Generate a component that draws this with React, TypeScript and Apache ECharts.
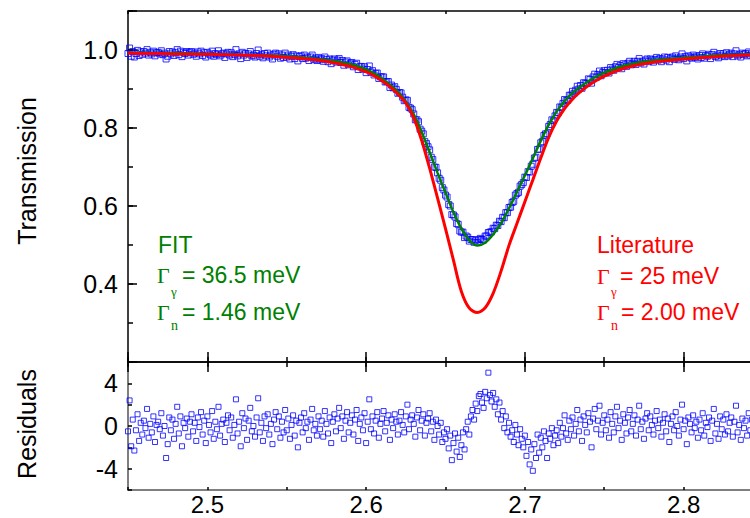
import { useEffect, useRef } from 'react';
import * as echarts from 'echarts';

const X_MIN = 2.45;
const X_MAX = 2.85;

// Transmission measurements, even grid (every 0.002 from 2.450)
const T_START = 2.45;
const T_STEP = 0.002;
const TRANSMISSION = [
  0.991, 0.984, 0.982, 0.999, 0.995, 0.996, 1.001, 0.994, 0.997, 0.993,
  0.990, 0.988, 0.977, 0.996, 0.995, 0.993, 0.988, 0.983, 0.991, 0.987,
  0.996, 0.992, 0.995, 0.997, 0.993, 0.994, 0.987, 0.984, 0.988, 0.985,
  0.992, 0.990, 0.987, 0.983, 1.001, 0.990, 0.994, 0.991, 0.990, 0.985,
  0.982, 1.000, 0.988, 0.991, 0.992, 0.987, 0.989, 0.984, 0.979, 0.981,
  0.982, 0.977, 0.988, 0.985, 0.983, 0.978, 0.979, 0.973, 0.987, 0.979,
  0.981, 0.978, 0.982, 0.970, 0.965, 0.977, 0.974, 0.968, 0.961, 0.972,
  0.966, 0.957, 0.966, 0.957, 0.951, 0.942, 0.959, 0.947, 0.940, 0.927,
  0.931, 0.918, 0.919, 0.910, 0.906, 0.889, 0.890, 0.870, 0.871, 0.851,
  0.836, 0.821, 0.797, 0.785, 0.760, 0.744, 0.719, 0.699, 0.671, 0.647,
  0.628, 0.604, 0.578, 0.572, 0.553, 0.533, 0.519, 0.520, 0.514, 0.507,
  0.506, 0.517, 0.513, 0.523, 0.533, 0.543, 0.551, 0.561, 0.571, 0.583,
  0.596, 0.609, 0.628, 0.635, 0.655, 0.674, 0.688, 0.702, 0.723, 0.745,
  0.762, 0.781, 0.785, 0.809, 0.819, 0.840, 0.854, 0.863, 0.870, 0.884,
  0.894, 0.897, 0.900, 0.902, 0.915, 0.926, 0.915, 0.938, 0.937, 0.934,
  0.947, 0.948, 0.955, 0.948, 0.963, 0.960, 0.965, 0.958, 0.971, 0.966,
  0.963, 0.978, 0.971, 0.974, 0.970, 0.974, 0.976, 0.974, 0.970, 0.982,
  0.981, 0.979, 0.976, 0.979, 0.982, 0.978, 0.972, 0.982, 0.987, 0.984,
  0.986, 0.990, 0.986, 0.989, 0.988, 0.983, 0.980, 0.985, 0.983, 0.985,
  0.992, 0.990, 0.985, 0.982, 0.988, 0.985, 0.987, 0.981, 0.994, 0.990,
];

// Transmission measurements, odd grid (every 0.002 from 2.451)
const T_ODD_START = 2.451;
const TRANSMISSION_ODD = [
  1.005, 0.996, 0.991, 0.986, 0.989, 0.992, 0.987, 0.990, 0.985, 0.994,
  0.998, 0.992, 0.984, 0.990, 0.986, 1.001, 0.997, 0.994, 0.996, 0.994,
  0.989, 0.984, 0.990, 0.986, 0.982, 0.990, 0.997, 0.991, 0.998, 0.990,
  0.981, 0.994, 0.993, 0.989, 0.985, 0.978, 0.987, 0.981, 0.996, 0.987,
  0.991, 0.984, 0.980, 0.985, 0.982, 0.977, 0.992, 0.990, 0.987, 0.992,
  0.987, 0.984, 0.978, 0.972, 0.985, 0.987, 0.982, 0.982, 0.976, 0.973,
  0.975, 0.971, 0.976, 0.977, 0.974, 0.969, 0.978, 0.973, 0.969, 0.962,
  0.968, 0.963, 0.950, 0.958, 0.957, 0.950, 0.943, 0.936, 0.941, 0.931,
  0.931, 0.919, 0.904, 0.903, 0.899, 0.891, 0.879, 0.872, 0.853, 0.847,
  0.821, 0.816, 0.792, 0.765, 0.752, 0.725, 0.700, 0.685, 0.666, 0.641,
  0.623, 0.600, 0.577, 0.555, 0.536, 0.533, 0.523, 0.510, 0.514, 0.512,
  0.514, 0.514, 0.523, 0.532, 0.534, 0.542, 0.550, 0.560, 0.570, 0.583,
  0.597, 0.612, 0.632, 0.651, 0.660, 0.673, 0.687, 0.707, 0.725, 0.746,
  0.765, 0.785, 0.804, 0.821, 0.831, 0.839, 0.853, 0.873, 0.871, 0.884,
  0.889, 0.907, 0.909, 0.916, 0.914, 0.924, 0.931, 0.930, 0.946, 0.942,
  0.942, 0.941, 0.951, 0.957, 0.955, 0.952, 0.962, 0.966, 0.962, 0.971,
  0.971, 0.967, 0.964, 0.977, 0.977, 0.969, 0.981, 0.978, 0.977, 0.974,
  0.970, 0.982, 0.985, 0.975, 0.990, 0.983, 0.985, 0.979, 0.981, 0.977,
  0.981, 0.979, 0.984, 0.978, 0.994, 0.987, 0.991, 0.990, 0.993, 0.989,
  0.983, 0.998, 0.989, 0.992, 0.991, 0.995, 0.992, 0.990, 0.986, 0.983,
];

// Residuals (sampled every 0.001 from 2.450)
const R_START = 2.45;
const R_STEP = 0.001;
const RESIDUALS = [
  -0.5, 2.4, -1.9, 0.6, -2.3, -0.4, 1.1, -1.4, 0.3, -0.8,
  0.5, -0.2, 1.6, -1.1, 0.2, -0.6, 0.9, -1.5, 0.1, 0.4,
  -0.3, 1.2, -0.9, 0.0, -3.0, -1.7, 0.8, -0.4, 0.6, -1.2,
  0.2, 1.8, -0.7, 0.9, -1.9, 0.3, -0.2, 0.7, -1.0, 0.4,
  1.1, -0.5, 0.3, -1.4, 0.8, -0.1, 1.3, -0.8, 0.5, -1.6,
  0.9, 0.1, -0.6, 1.4, -1.2, 0.4, -0.3, 1.8, -0.9, 0.2,
  0.6, -1.5, 0.3, 1.0, -0.4, 0.8, -1.1, 0.1, 2.5, -0.7,
  0.4, -1.9, 1.2, -0.2, 0.7, -1.3, 0.5, 1.7, -0.5, 0.0,
  -1.0, 0.8, 2.6, -0.6, 0.3, -1.4, 0.9, -0.2, 1.1, -0.8,
  0.2, -1.7, 0.6, 1.3, -0.3, 0.9, -1.1, 0.4, -0.6, 1.5,
  -0.4, 0.7, -1.2, 0.1, 1.0, -0.9, 0.5, -2.0, 0.3, 0.8,
  -0.6, 1.2, -0.2, 0.4, -1.3, 0.6, 1.6, -0.4, 0.2, -0.9,
  0.9, -0.3, 0.5, -1.0, 1.4, 0.2, -0.7, 0.8, -1.6, 0.4,
  1.1, -0.5, 0.7, 1.7, -0.2, 0.9, -1.2, 0.5, 1.3, -0.6,
  0.3, 1.0, -0.8, 0.6, 1.5, -1.4, 0.2, 0.8, -0.4, 1.2,
  -1.6, 0.4, 2.5, -0.3, 0.9, -0.7, 0.5, 1.3, -1.1, 0.2,
  0.7, 1.4, -0.5, 0.3, 1.0, -1.3, 0.6, -0.2, 1.1, 0.4,
  -0.8, 0.5, 1.3, 0.1, -0.6, 0.9, 2.0, -0.3, 0.6, 1.0,
  0.2, -1.0, 0.8, 1.5, -0.4, 0.5, 1.1, -0.9, 0.3, 0.7,
  1.2, -0.5, 0.4, -1.3, 0.6, 0.0, -0.8, 0.3, -1.5, -0.6,
  -1.2, -0.3, -2.1, -0.9, -3.2, -1.6, -0.7, -2.4, -1.1, -2.9,
  -1.8, -0.6, -2.2, -0.3, 0.4, -0.8, 0.9, 1.5, 0.6, 2.1,
  1.4, 2.8, 3.0, 2.2, 1.7, 3.2, 2.6, 5.0, 2.9, 2.3,
  3.1, 1.8, 2.5, 1.1, 2.2, 0.6, 1.4, -0.2, 0.9, -0.6,
  0.3, -1.0, -0.4, -1.5, 0.1, -0.8, -1.8, -0.3, -1.2, -2.0,
  -0.9, -2.8, -1.5, -3.6, -2.2, -4.2, -1.7, -3.0, -0.8, -2.5,
  -1.1, -2.0, -0.5, -1.4, -3.0, -0.7, -1.2, -0.2, -1.8, -0.9,
  -0.4, -1.6, 0.3, -1.0, -0.2, 1.0, -0.7, -1.3, 0.5, -0.3,
  0.8, -0.9, 0.2, 1.5, -0.5, 0.6, -1.4, 0.9, 0.1, -0.6,
  1.2, 0.4, -2.0, 0.7, 1.6, -0.3, 0.5, 1.9, -0.8, 0.3,
  1.0, -0.4, 0.6, -1.1, 1.3, 0.2, -0.6, 0.9, 1.8, -0.2,
  0.5, -1.3, 1.1, 0.3, -0.7, 0.8, 1.5, -0.5, 0.2, 1.0,
  -0.9, 0.6, 1.9, -0.3, 0.4, -1.2, 0.7, 1.2, -0.4, 0.9,
  0.1, -0.8, 0.5, 1.4, -0.2, 0.6, -1.0, 0.3, 1.1, -0.5,
  0.7, -1.5, 0.2, 0.9, -0.4, 1.3, 0.0, -0.9, 0.6, 2.0,
  -0.3, 0.5, -1.7, 0.8, 0.2, -0.6, 1.0, -0.2, 0.4, -1.1,
  0.6, -0.4, 1.2, -0.9, 0.3, -0.1, 0.8, -1.4, 0.5, 1.6,
  -0.7, 0.2, -1.2, 0.9, -0.3, 0.6, -0.8, 1.1, -0.5, 0.3,
  0.8, -1.0, 0.4, 1.9, -0.6, 0.1, -1.3, 0.7, -0.2, 0.5,
  -0.9, 1.2, -0.4, 0.6, -1.6, 0.3, 1.0, -0.7, 0.2, -1.2,
];

// Curves (fit and literature), shared energy grid
const CURVE_X = [
  2.45, 2.46, 2.47, 2.48, 2.49, 2.5, 2.51, 2.52, 2.53, 2.54, 2.55, 2.56, 2.57, 2.58, 2.59,
  2.6, 2.605, 2.61, 2.615, 2.62, 2.625, 2.63, 2.635, 2.64, 2.645, 2.65, 2.655, 2.66, 2.665,
  2.67, 2.675, 2.68, 2.685, 2.69, 2.695, 2.7, 2.705, 2.71, 2.715, 2.72, 2.725, 2.73, 2.735,
  2.74, 2.745, 2.75,
  2.76, 2.77, 2.78, 2.79, 2.8, 2.81, 2.82, 2.83, 2.84, 2.85,
];
const FIT_Y = [
  0.993, 0.993, 0.992, 0.992, 0.991, 0.990, 0.989, 0.988, 0.987, 0.986, 0.984, 0.981, 0.977, 0.972, 0.964,
  0.950, 0.940, 0.927, 0.911, 0.893, 0.868, 0.835, 0.790, 0.738, 0.685, 0.634, 0.584, 0.542, 0.512,
  0.499, 0.506, 0.527, 0.556, 0.594, 0.636, 0.678, 0.722, 0.767, 0.808, 0.842, 0.869, 0.890, 0.906,
  0.920, 0.932, 0.942,
  0.957, 0.967, 0.973, 0.977, 0.980, 0.983, 0.986, 0.988, 0.989, 0.990,
];
const LIT_Y = [
  0.992, 0.991, 0.991, 0.990, 0.990, 0.989, 0.988, 0.987, 0.986, 0.984, 0.981, 0.978, 0.974, 0.967, 0.958,
  0.944, 0.934, 0.921, 0.906, 0.887, 0.864, 0.826, 0.768, 0.697, 0.620, 0.542, 0.461, 0.381, 0.338,
  0.327, 0.339, 0.376, 0.433, 0.499, 0.555, 0.611, 0.667, 0.723, 0.776, 0.818, 0.850, 0.874, 0.893,
  0.909, 0.922, 0.933,
  0.950, 0.961, 0.968, 0.973, 0.977, 0.980, 0.983, 0.985, 0.987, 0.988,
];

const FIT_LINES = ['FIT', '= 36.5 meV', '= 1.46 meV'];
const LIT_LINES = ['Literature', '= 25 meV', '= 2.00 meV'];

const SANS = '"Liberation Sans", Arial, Helvetica, sans-serif';
const SERIF = '"Liberation Serif", "Times New Roman", serif';
const GREEN = '#008000';
const RED = '#ff0000';
const BLUE = '#0000ff';

const isMultiple = (v: number, step: number) => Math.abs(v / step - Math.round(v / step)) < 1e-6;

function tickAxis(gridIndex: number, position: string, extra: any) {
  return {
    type: 'value',
    gridIndex,
    position,
    min: X_MIN,
    max: X_MAX,
    splitLine: { show: false },
    axisLine: { show: false, onZero: false },
    axisLabel: { show: false },
    axisTick: { show: false },
    ...extra,
  };
}

export default function App() {
  const ref = useRef<HTMLDivElement>(null);

  useEffect(() => {
    if (!ref.current) return;
    const chart = echarts.init(ref.current, undefined, { renderer: 'svg' });

    const blackLine = { show: true, onZero: false, lineStyle: { color: '#000', width: 1.5 } };
    const grayLine = { show: true, onZero: false, lineStyle: { color: '#555', width: 1.5 } };
    const tick = (len: number) => ({ show: true, inside: true, length: len, lineStyle: { color: '#000', width: 1.5 } });

    const transData = TRANSMISSION.map((v, i) => [+(T_START + i * T_STEP).toFixed(4), v]).concat(
      TRANSMISSION_ODD.map((v, i) => [+(T_ODD_START + i * T_STEP).toFixed(4), v])
    );
    const resData = RESIDUALS.map((v, i) => [+(R_START + i * R_STEP).toFixed(4), v]);
    const fitData = CURVE_X.map((x, i) => [x, FIT_Y[i]]);
    const litData = CURVE_X.map((x, i) => [x, LIT_Y[i]]);

    const textEl = (text: string, x: number, y: number, color: string, size: number, family: string, rotation = 0, align = 'left') => ({
      type: 'text',
      x,
      y,
      rotation,
      silent: true,
      style: { text, fill: color, fontSize: size, fontFamily: family, align, verticalAlign: 'middle' },
    });

    const option: any = {
      animation: false,
      backgroundColor: '#fff',
      grid: [
        { left: 128, top: 11, right: -13, height: 351, outerBoundsMode: 'none', containLabel: false },
        { left: 128, top: 362, right: -13, height: 128, outerBoundsMode: 'none', containLabel: false },
      ],
      xAxis: [
        tickAxis(0, 'bottom', { splitNumber: 4, axisLine: blackLine, axisTick: tick(10) }),
        tickAxis(0, 'bottom', { interval: 0.05, axisTick: tick(5) }),
        tickAxis(0, 'top', { interval: 0.05, axisLine: blackLine, axisTick: tick(3) }),
        tickAxis(1, 'top', { splitNumber: 4, axisLine: blackLine, axisTick: tick(10) }),
        tickAxis(1, 'top', { interval: 0.05, axisTick: tick(5) }),
        tickAxis(1, 'bottom', {
          splitNumber: 4,
          axisLine: grayLine,
          axisLabel: {
            show: true,
            margin: 4,
            lineHeight: 20,
            color: '#000',
            fontSize: 24,
            fontFamily: SANS,
            formatter: (v: number) => (isMultiple(v, 0.1) ? v.toFixed(1) : ''),
          },
        }),
        tickAxis(1, 'bottom', { interval: 0.05, axisTick: tick(3) }),
      ],
      yAxis: [
        {
          type: 'value',
          gridIndex: 0,
          position: 'left',
          min: 0.2,
          max: 1.1,
          interval: 0.2,
          splitLine: { show: false },
          axisLine: blackLine,
          axisTick: tick(9),
          axisLabel: {
            show: true,
            margin: 10,
            color: '#000',
            fontSize: 25,
            fontFamily: SANS,
            formatter: (v: number) => (v > 0.3 && v < 1.05 ? v.toFixed(1) : ''),
          },
        },
        {
          type: 'value',
          gridIndex: 0,
          position: 'left',
          min: 0.2,
          max: 1.1,
          interval: 0.1,
          splitLine: { show: false },
          axisLine: { show: false, onZero: false },
          axisTick: tick(5),
          axisLabel: { show: false },
        },
        {
          type: 'value',
          gridIndex: 1,
          position: 'left',
          min: -6,
          max: 6,
          interval: 2,
          splitLine: { show: false },
          axisLine: grayLine,
          axisTick: tick(4),
          axisLabel: {
            show: true,
            margin: 10,
            color: '#000',
            fontSize: 25,
            fontFamily: SANS,
            formatter: (v: number) => (Math.abs(v) < 5 && isMultiple(v, 4) ? String(v) : ''),
          },
        },
      ],
      series: [
        {
          type: 'scatter',
          xAxisIndex: 0,
          yAxisIndex: 0,
          data: transData,
          symbol: 'rect',
          symbolSize: 6,
          itemStyle: { color: 'rgba(0,0,0,0)', borderColor: BLUE, borderWidth: 1 },
          z: 2,
        },
        {
          type: 'line',
          xAxisIndex: 0,
          yAxisIndex: 0,
          data: fitData,
          smooth: 0.3,
          showSymbol: false,
          symbol: 'none',
          lineStyle: { color: GREEN, width: 2.5 },
          z: 3,
        },
        {
          type: 'line',
          xAxisIndex: 0,
          yAxisIndex: 0,
          data: litData,
          smooth: 0.3,
          showSymbol: false,
          symbol: 'none',
          lineStyle: { color: RED, width: 3 },
          z: 4,
        },
        {
          type: 'scatter',
          xAxisIndex: 5,
          yAxisIndex: 2,
          data: resData,
          symbol: 'rect',
          symbolSize: 5,
          itemStyle: { color: 'rgba(0,0,0,0)', borderColor: BLUE, borderWidth: 1 },
          z: 2,
        },
      ],
      graphic: [
        textEl('Transmission', 27, 171, '#000', 25, SANS, Math.PI / 2, 'center'),
        textEl('Residuals', 27, 424, '#000', 25, SANS, Math.PI / 2, 'center'),
        textEl(FIT_LINES[0], 158, 245, GREEN, 23, SANS),
        textEl('Γ', 157, 275, GREEN, 22, SERIF),
        textEl('γ', 171, 291, GREEN, 13, SERIF),
        textEl(FIT_LINES[1], 182, 275, GREEN, 23, SANS),
        textEl('Γ', 157, 312, GREEN, 22, SERIF),
        textEl('n', 171, 325, GREEN, 14, SERIF),
        textEl(FIT_LINES[2], 182, 312, GREEN, 23, SANS),
        textEl(LIT_LINES[0], 597, 245, RED, 23, SANS),
        textEl('Γ', 597, 276, RED, 22, SERIF),
        textEl('γ', 611, 291, RED, 13, SERIF),
        textEl(LIT_LINES[1], 620, 276, RED, 23, SANS),
        textEl('Γ', 597, 312, RED, 22, SERIF),
        textEl('n', 611, 325, RED, 14, SERIF),
        textEl(LIT_LINES[2], 621, 312, RED, 23, SANS),
      ],
    };

    chart.setOption(option);
    return () => chart.dispose();
  }, []);

  return <div ref={ref} style={{ position: 'fixed', left: 0, top: 0, width: 750, height: 518 }} />;
}
